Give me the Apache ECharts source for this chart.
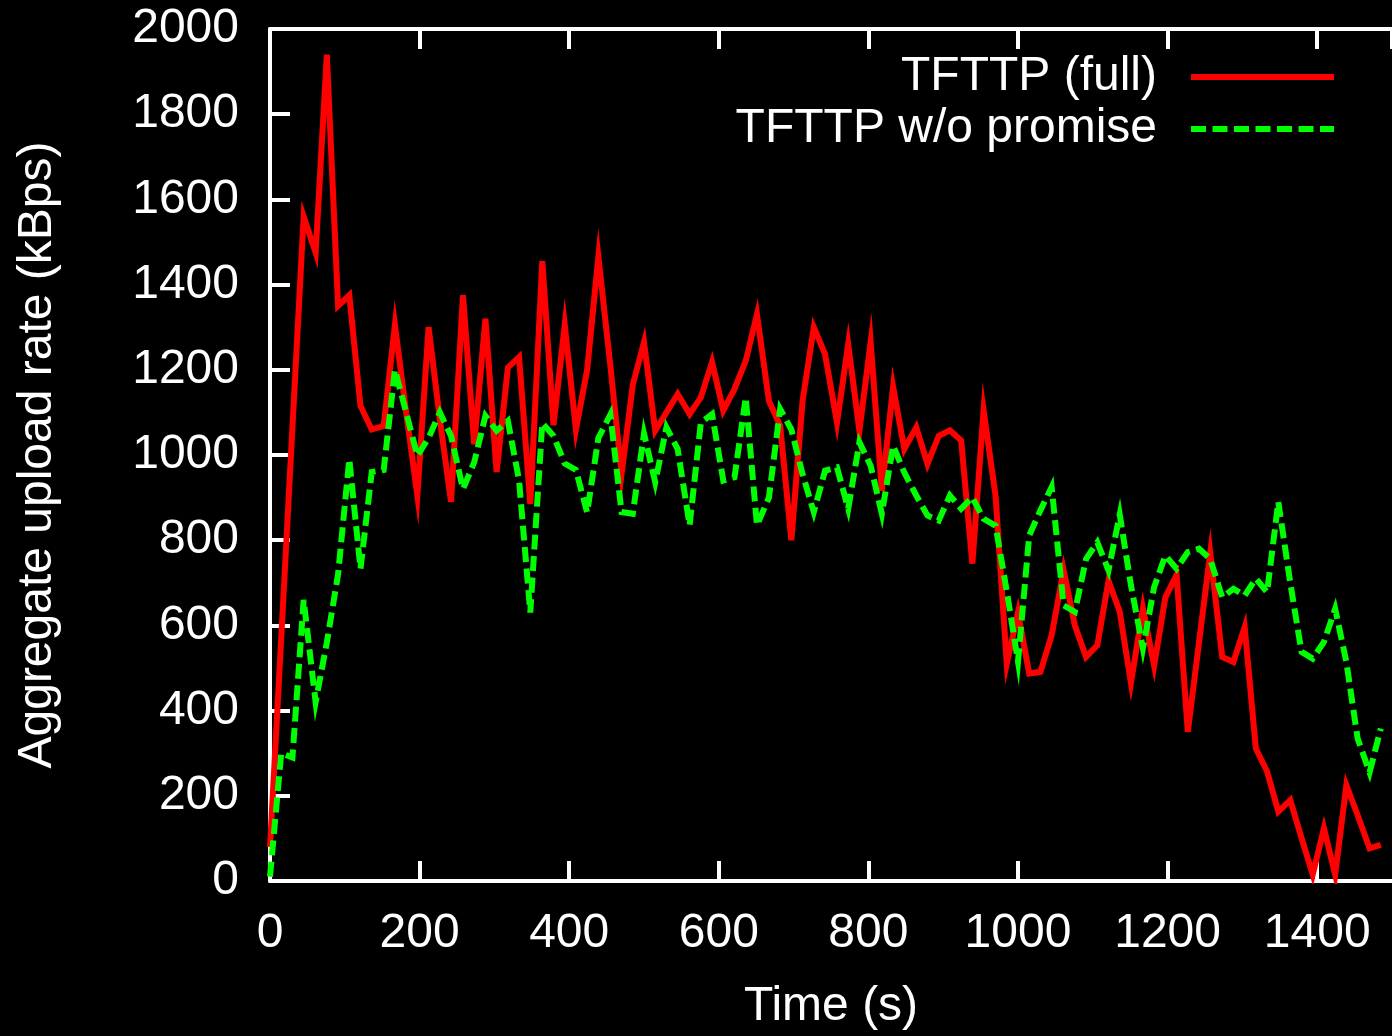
<!DOCTYPE html>
<html>
<head>
<meta charset="utf-8">
<title>Aggregate upload rate</title>
<script src="https://cdn.jsdelivr.net/npm/echarts@6/dist/echarts.min.js"></script>
<style>
  html, body { margin: 0; padding: 0; background: #000; }
  #chart { width: 1392px; height: 1036px; }
</style>
</head>
<body>
<div id="chart"></div>
<script>
// sample times (s), one point roughly every 15 s
var times = [0, 15, 30, 45, 61, 76, 91, 106, 121, 136, 152, 167, 182, 197, 212, 227, 242, 258, 273, 288,
  303, 318, 333, 348, 364, 379, 394, 409, 424, 439, 455, 470, 485, 500, 515, 530, 545, 561, 576, 591,
  606, 621, 636, 651, 667, 682, 697, 712, 727, 742, 758, 773, 788, 803, 818, 833, 848, 864, 879, 894,
  909, 924, 939, 954, 970, 985, 1000, 1015, 1030, 1045, 1061, 1076, 1091, 1106, 1121, 1136, 1151, 1167, 1182, 1197,
  1212, 1227, 1242, 1257, 1273, 1288, 1303, 1318, 1333, 1348, 1364, 1379, 1394, 1409, 1424, 1439, 1454, 1470, 1485];

// TFTTP (full)
var fullRate = [80, 570, 1065, 1560, 1475, 1940, 1350, 1375, 1115, 1060, 1068, 1305, 1100, 905, 1300, 1085, 890, 1375, 1025, 1320,
  960, 1205, 1230, 885, 1455, 1070, 1305, 1060, 1200, 1465, 1210, 955, 1165, 1265, 1057, 1100, 1143, 1096, 1135, 1218,
  1104, 1155, 1221, 1330, 1127, 1069, 800, 1127, 1300, 1237, 1076, 1260, 1057, 1265, 916, 1160, 1014, 1065, 979, 1045,
  1058, 1034, 745, 1105, 904, 510, 630, 487, 491, 577, 730, 600, 526, 553, 705, 632, 465, 640, 505, 666,
  718, 350, 560, 770, 526, 514, 596, 311, 257, 163, 190, 101, 15, 124, 15, 225, 155, 77, 85];

// TFTTP w/o promise
var noPromiseRate = [10, 300, 290, 660, 420, 560, 720, 990, 733, 960, 965, 1200, 1100, 998, 1040, 1100, 1045, 920, 983, 1092,
  1057, 1080, 940, 630, 1075, 1045, 980, 965, 865, 1040, 1095, 866, 862, 1050, 936, 1065, 1014, 835, 1076, 1096,
  940, 948, 1135, 835, 900, 1108, 1060, 955, 866, 963, 971, 874, 1030, 975, 862, 1022, 959, 905, 858, 846,
  905, 874, 901, 850, 834, 680, 515, 811, 870, 925, 647, 632, 756, 795, 729, 860, 694, 546, 690, 764,
  733, 772, 780, 756, 666, 686, 670, 710, 678, 890, 700, 538, 522, 561, 639, 514, 335, 255, 358];

var FONT = "'Liberation Sans', Arial, Helvetica, sans-serif";

function pairs(ys) {
  return times.map(function (t, i) { return [t, ys[i]]; });
}

function plain(v) {
  return String(v);
}

var chart = echarts.init(document.getElementById('chart'));

var axisLine = { show: true, onZero: false, lineStyle: { color: '#fff', width: 4 } };
var axisTick = { show: true, inside: true, length: 20, lineStyle: { color: '#fff', width: 4 } };

var option = {
  backgroundColor: '#000',
  animation: false,
  grid: { left: 270, top: 29, width: 1127, height: 853.5, containLabel: false },
  legend: {
    orient: 'vertical',
    right: 55,
    top: 53,
    padding: 0,
    align: 'right',
    itemWidth: 143,
    itemHeight: 12,
    itemGap: 4,
    selectedMode: false,
    itemStyle: { opacity: 0 },
    lineStyle: { width: 6 },
    textStyle: { color: '#fff', fontSize: 48, fontFamily: FONT, lineHeight: 48, padding: [0, 29, 0, 0] },
    data: ['TFTTP (full)', 'TFTTP w/o promise']
  },
  xAxis: [
    {
      type: 'value', min: 0, max: 1500, interval: 200, position: 'bottom',
      axisLine: axisLine, axisTick: axisTick,
      axisLabel: { color: '#fff', fontSize: 48, fontFamily: FONT, margin: 29, showMaxLabel: false, formatter: plain },
      splitLine: { show: false },
      name: 'Time (s)', nameLocation: 'middle', nameGap: 102,
      nameTextStyle: { color: '#fff', fontSize: 48, fontFamily: FONT }
    },
    {
      type: 'value', min: 0, max: 1500, interval: 200, position: 'top',
      axisLine: axisLine, axisTick: axisTick,
      axisLabel: { show: false }, splitLine: { show: false }
    }
  ],
  yAxis: {
    type: 'value', min: 0, max: 2000, interval: 200,
    axisLine: axisLine, axisTick: axisTick,
    axisLabel: { color: '#fff', fontSize: 48, fontFamily: FONT, margin: 31, formatter: plain },
    splitLine: { show: false },
    name: 'Aggregate upload rate (kBps)', nameLocation: 'middle', nameRotate: 90, nameGap: 208,
    nameTextStyle: { color: '#fff', fontSize: 48, fontFamily: FONT }
  },
  series: [
    {
      name: 'TFTTP (full)', type: 'line', data: pairs(fullRate),
      symbol: 'none', showSymbol: false,
      lineStyle: { color: '#ff0000', width: 6, join: 'miter', miterLimit: 10 },
      itemStyle: { color: '#ff0000' }
    },
    {
      name: 'TFTTP w/o promise', type: 'line', data: pairs(noPromiseRate),
      symbol: 'none', showSymbol: false,
      lineStyle: { color: '#00ff00', width: 6, type: [15, 6.5], join: 'miter', miterLimit: 10 },
      itemStyle: { color: '#00ff00' }
    }
  ]
};

chart.setOption(option);
</script>
</body>
</html>
